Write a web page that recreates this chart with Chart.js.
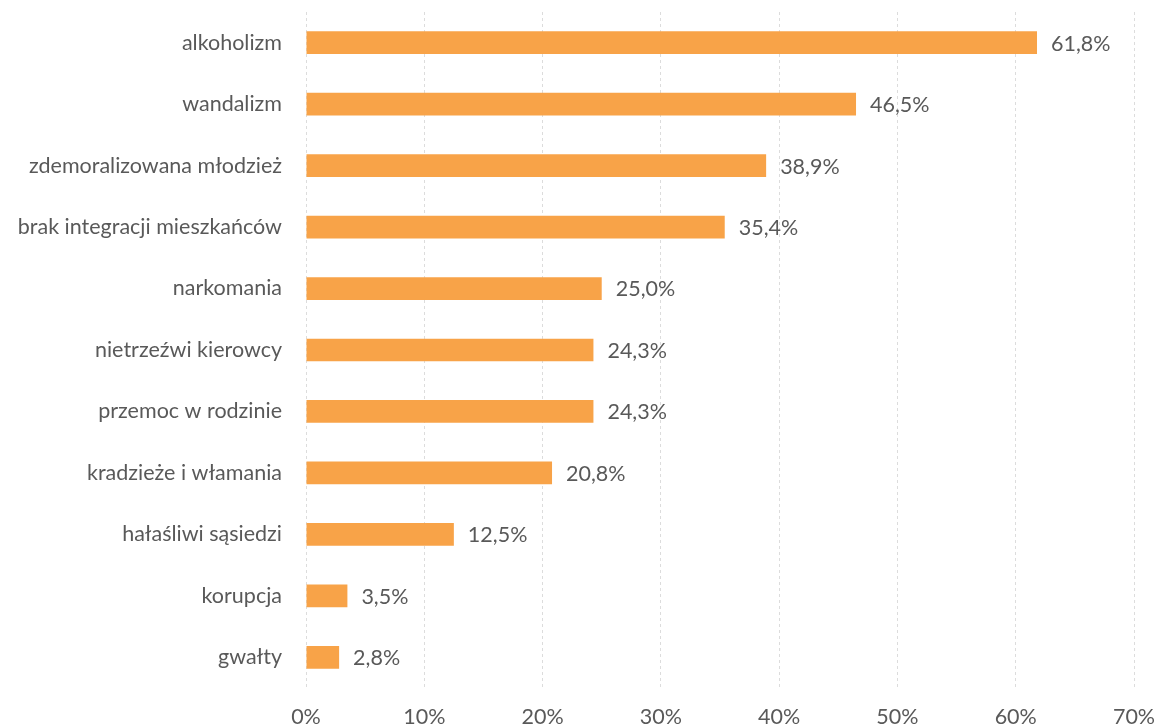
<!DOCTYPE html>
<html>
<head>
<meta charset="utf-8">
<script src="https://cdn.jsdelivr.net/npm/chart.js@4/dist/chart.umd.min.js"></script>
<style>
html,body{margin:0;padding:0;background:#fff;}
#c{display:block;}
</style>
</head>
<body>
<canvas id="c" width="1156" height="727"></canvas>
<script>
const categories = ["alkoholizm","wandalizm","zdemoralizowana młodzież","brak integracji mieszkańców","narkomania","nietrzeźwi kierowcy","przemoc w rodzinie","kradzieże i włamania","hałaśliwi sąsiedzi","korupcja","gwałty"];
const values = [61.8,46.5,38.9,35.4,25.0,24.3,24.3,20.8,12.5,3.5,2.8];
const xTicks = [0,10,20,30,40,50,60,70];

const FONT = "Lato, 'Open Sans', sans-serif";
const TEXT = "#595959";
const FSIZE = 21.5;

const valueLabels = {
  id: 'valueLabels',
  afterDatasetsDraw(chart){
    const ctx = chart.ctx;
    const meta = chart.getDatasetMeta(0);
    ctx.save();
    ctx.font = FSIZE + "px " + FONT;
    ctx.fillStyle = TEXT;
    ctx.textAlign = 'left';
    ctx.textBaseline = 'middle';
    meta.data.forEach((bar, i) => {
      const v = chart.data.datasets[0].data[i];
      ctx.fillText(v.toFixed(1).replace('.', ',') + '%', bar.x + 14, bar.y + 1);
    });
    ctx.restore();
  }
};

new Chart(document.getElementById('c'), {
  type: 'bar',
  data: {
    labels: categories,
    datasets: [{
      data: values,
      backgroundColor: '#F8A348',
      borderWidth: 0,
      barPercentage: 0.74,
      categoryPercentage: 0.5
    }]
  },
  options: {
    indexAxis: 'y',
    responsive: false,
    animation: false,
    layout: { padding: { top: 12, right: 22, bottom: 0, left: 0 } },
    plugins: { legend: { display: false }, tooltip: { enabled: false } },
    scales: {
      x: {
        min: 0, max: 70,
        afterBuildTicks(scale){ scale.ticks = xTicks.map(v => ({ value: v })); },
        afterFit(scale){ scale.height = 39; scale.paddingLeft = 0; scale.paddingRight = 0; },
        ticks: {
          callback: v => v + '%',
          color: TEXT,
          font: { family: FONT, size: FSIZE },
          padding: 16,
          maxRotation: 0
        },
        grid: { color: '#dcdcdc', drawTicks: false, lineWidth: 1 },
        border: { display: false, dash: [3, 3] }
      },
      y: {
        afterFit(scale){ scale.width = 306; scale.paddingTop = 0; scale.paddingBottom = 0; },
        ticks: {
          color: TEXT,
          font: { family: FONT, size: FSIZE },
          padding: 24,
          autoSkip: false
        },
        grid: { display: false, drawTicks: false },
        border: { display: false }
      }
    }
  },
  plugins: [valueLabels]
});
</script>
</body>
</html>
